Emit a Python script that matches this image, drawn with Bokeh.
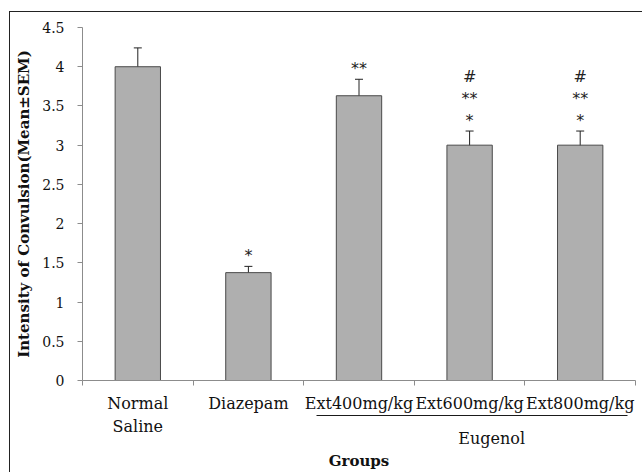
from bokeh.plotting import figure
from bokeh.models import (Range1d, FixedTicker, LinearAxis, NumeralTickFormatter,
                          ColumnDataSource, Whisker, TeeHead)
from bokeh.core.properties import value
from bokeh.embed import file_html
from bokeh.resources import INLINE

# ---- data ----
groups_line1 = ["Normal", "Diazepam", "Ext400mg/kg", "Ext600mg/kg", "Ext800mg/kg"]
groups_line2 = ["Saline", "", "", "", ""]
means = [4.0, 1.375, 3.63, 3.0, 3.0]
sems = [0.24, 0.08, 0.21, 0.18, 0.18]
marks = ["", "*", "**", "#\n**\n*", "#\n**\n*"]
subgroup_label = "Eugenol"
y_ticks = [0, 0.5, 1, 1.5, 2, 2.5, 3, 3.5, 4, 4.5]
y_title = "Intensity of Convulsion(Mean\u00b1SEM)"
x_title = "Groups"

n = len(groups_line1)
xs = [i + 0.5 for i in range(n)]
src = ColumnDataSource(dict(
    x=xs, top=means,
    upper=[m + s for m, s in zip(means, sems)],
    lower=[m - s for m, s in zip(means, sems)],
    marks=marks,
))

SERIF = "DejaVu Serif"
AXIS_GRAY = "#8c8c8c"
TXT = "#111111"

p = figure(width=633, height=461, output_backend="svg", toolbar_location=None,
           x_range=Range1d(0, n), y_range=Range1d(0, 4.5),
           min_border_left=72, min_border_right=8, min_border_top=15, min_border_bottom=93)
p.outline_line_color = None
p.grid.visible = False
p.margin = (11, 0, 0, 9)
p.styles = {"border-left": "1px solid #222222", "border-top": "1px solid #222222",
            "border-right": "none", "border-bottom": "none",
            "outline": "none", "box-shadow": "none"}

# bars
p.vbar(x="x", top="top", width=0.41, source=src,
       fill_color="#afafaf", line_color="#4a4a4a", line_width=1)

# error bars
p.add_layout(Whisker(source=src, base="x", upper="upper", lower="lower",
                     line_color="#222222", line_width=1,
                     upper_head=TeeHead(size=8, line_color="#222222", line_width=1),
                     lower_head=TeeHead(size=8, line_color="#222222", line_width=1)))

# significance marks
p.text(x="x", y="upper", text="marks", source=src, text_align="center",
       text_baseline="bottom", y_offset=-1, text_font=value("DejaVu Sans"),
       text_font_size="16px", text_color="#222222", text_line_height=1.15)

# y axis
ya = p.yaxis[0]
ya.ticker = FixedTicker(ticks=y_ticks)
ya.formatter = NumeralTickFormatter(format="0[.]0")
ya.minor_tick_line_color = None
ya.major_tick_in = 0
ya.major_tick_out = 5
ya.major_tick_line_color = AXIS_GRAY
ya.axis_line_color = AXIS_GRAY
ya.major_label_text_font = SERIF
ya.major_label_text_font_size = "14px"
ya.major_label_text_color = TXT
ya.major_label_standoff = 13
ya.axis_label = y_title
ya.axis_label_text_font = SERIF
ya.axis_label_text_font_style = "bold"
ya.axis_label_text_font_size = "15px"
ya.axis_label_text_color = TXT
ya.axis_label_standoff = 6

# A: x axis line with ticks on the group boundaries (no labels)
xa = p.xaxis[0]
xa.ticker = FixedTicker(ticks=list(range(n + 1)))
xa.axis_line_color = AXIS_GRAY
xa.major_tick_line_color = AXIS_GRAY
xa.minor_tick_line_color = None
xa.major_tick_in = 0
xa.major_tick_out = 5
xa.major_label_text_color = None
xa.major_label_standoff = 0


def label_axis(ticks, labels, standoff, **kw):
    opts = dict(axis_line_color=None, major_tick_line_color=None,
                minor_tick_line_color=None, major_tick_in=0, major_tick_out=0,
                major_label_standoff=standoff, major_label_text_font=SERIF,
                major_label_text_font_size="16px", major_label_text_color=TXT)
    opts.update(kw)
    ax = LinearAxis(ticker=FixedTicker(ticks=ticks),
                    major_label_overrides={t: s for t, s in zip(ticks, labels)},
                    **opts)
    p.add_layout(ax, "below")
    return ax


# B: first line of the group names
label_axis(xs, groups_line1, 8)

# S: spacer between the names and the bracket
spacer = LinearAxis(ticker=FixedTicker(ticks=[]), axis_line_color=None,
                    major_tick_line_color=None, minor_tick_line_color=None,
                    major_tick_in=0, major_tick_out=7, major_label_text_color=None,
                    major_label_standoff=0)
p.add_layout(spacer, "below")

# C: bracket under the Eugenol groups
label_axis([3.7], [subgroup_label], 13, bounds=(2.12, 4.93),
           axis_line_color="#1a1a1a", axis_line_width=1)

# D: second line of the group names (pulled up beside the bracket) + axis title
second = [(x, s) for x, s in zip(xs, groups_line2) if s]
label_axis([x for x, _ in second], [s for _, s in second], -34,
           axis_label=x_title, axis_label_text_font=SERIF,
           axis_label_text_font_style="bold", axis_label_text_font_size="15px",
           axis_label_text_color=TXT, axis_label_standoff=13)

open("out.html", "w").write(file_html(p, INLINE))
